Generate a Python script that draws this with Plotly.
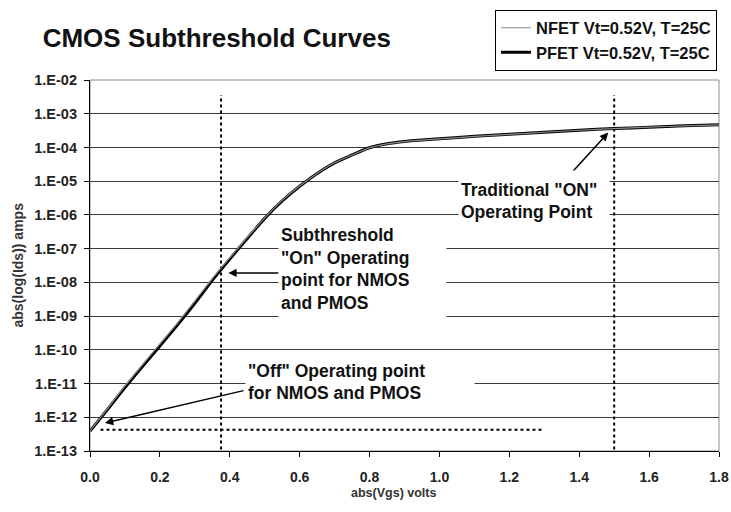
import plotly.graph_objects as go

# ---------------- data ----------------
vgs = [0.00, 0.05, 0.10, 0.15, 0.20, 0.25, 0.30, 0.35, 0.40, 0.45, 0.50, 0.55, 0.60, 0.65,
       0.70, 0.75, 0.80, 0.85, 0.90, 0.95, 1.00, 1.10, 1.20, 1.30, 1.40, 1.50, 1.60, 1.70, 1.80]
ids_pfet = [3.9e-13, 1.7e-12, 7.6e-12, 3.2e-11, 1.3e-10, 5.4e-10, 2.4e-9, 1.15e-8, 4.9e-8, 2.0e-7,
            7.9e-7, 2.6e-6, 7.1e-6, 1.7e-5, 3.5e-5, 6.0e-5, 9.8e-5, 1.28e-4, 1.50e-4, 1.66e-4,
            1.80e-4, 2.14e-4, 2.45e-4, 2.82e-4, 3.24e-4, 3.63e-4, 3.98e-4, 4.37e-4, 4.68e-4]
ids_nfet = [4.0e-13, 1.8e-12, 8.5e-12, 3.6e-11, 1.5e-10, 6.2e-10, 2.8e-9, 1.3e-8, 5.4e-8, 2.15e-7,
            8.2e-7, 2.7e-6, 7.2e-6, 1.7e-5, 3.5e-5, 6.0e-5, 9.7e-5, 1.27e-4, 1.49e-4, 1.65e-4,
            1.79e-4, 2.13e-4, 2.45e-4, 2.82e-4, 3.24e-4, 3.63e-4, 3.98e-4, 4.37e-4, 4.68e-4]
series_names = ["NFET Vt=0.52V, T=25C", "PFET Vt=0.52V, T=25C"]

# operating-point markers
on_sub_v = [0.375, 0.375]          # subthreshold "on" vertical line
on_trad_v = [1.5, 1.5]             # traditional "on" vertical line
vline_i = [1.1e-13, 3.6e-3]
off_v = [0.03, 1.3]                # "off" horizontal line
off_i = [4.3e-13, 4.3e-13]

# arrow (head V, head log10 I, tail V, tail log10 I)
arrow_sub = (0.396, -7.72, 0.544, -7.72)
arrow_trad = (1.483, -3.56, 1.373, -4.81)
arrow_off = (0.043, -12.17, 0.4435, -11.2)

ytick_vals = [1e-2, 1e-3, 1e-4, 1e-5, 1e-6, 1e-7, 1e-8, 1e-9, 1e-10, 1e-11, 1e-12, 1e-13]
ytick_text = ["1.E-02", "1.E-03", "1.E-04", "1.E-05", "1.E-06", "1.E-07", "1.E-08", "1.E-09",
              "1.E-10", "1.E-11", "1.E-12", "1.E-13"]
xtick_vals = [0.0, 0.2, 0.4, 0.6, 0.8, 1.0, 1.2, 1.4, 1.6, 1.8]

FONT = "Liberation Sans, Arial, sans-serif"

fig = go.Figure()

# dotted reference lines
for xs in (on_sub_v, on_trad_v):
    fig.add_trace(go.Scatter(x=xs, y=vline_i, mode="lines", showlegend=False,
                             line=dict(color="black", width=2, dash="dot"), hoverinfo="skip"))
fig.add_trace(go.Scatter(x=off_v, y=off_i, mode="lines", showlegend=False,
                         line=dict(color="black", width=2, dash="dot"), hoverinfo="skip"))

# curves: PFET thick black, NFET thin grey on top
fig.add_trace(go.Scatter(x=vgs, y=ids_pfet, mode="lines", name=series_names[1],
                         line=dict(color="black", width=3, shape="spline", smoothing=0.8),
                         legendrank=2))
fig.add_trace(go.Scatter(x=vgs, y=ids_nfet, mode="lines", name=series_names[0],
                         line=dict(color="#8a8a8a", width=1.2, shape="spline", smoothing=0.8),
                         legendrank=1))

ann_font = dict(family=FONT, size=17.5, color="#111", weight="bold")

annotations = []
# arrows
for (hx, hy, tx, ty) in (arrow_sub, arrow_trad, arrow_off):
    annotations.append(dict(x=hx, y=hy, ax=tx, ay=ty, xref="x", yref="y", axref="x", ayref="y",
                            text="", showarrow=True, arrowhead=2, arrowsize=1.1,
                            arrowwidth=1.5, arrowcolor="black"))
# text boxes (white background breaks the grid lines)
annotations.append(dict(text="Subthreshold<br>\"On\" Operating<br>point for NMOS<br>and PMOS",
                        xref="paper", yref="paper", x=0.299, y=0.49, xanchor="left", yanchor="middle",
                        align="left", valign="middle", width=163, height=94, bgcolor="white",
                        borderpad=2, showarrow=False, font=ann_font))
annotations.append(dict(text="Traditional \"ON\"<br>Operating Point",
                        xref="paper", yref="paper", x=0.585, y=0.673, xanchor="left", yanchor="middle",
                        align="left", valign="middle", width=146, height=56, bgcolor="white",
                        borderpad=2, showarrow=False, font=ann_font))
annotations.append(dict(text="\"Off\" Operating point<br>for NMOS and PMOS",
                        xref="paper", yref="paper", x=0.2464, y=0.1865, xanchor="left", yanchor="middle",
                        align="left", valign="middle", width=224, height=46, bgcolor="white",
                        borderpad=2, showarrow=False, font=ann_font))
# axis titles
annotations.append(dict(text="abs(Vgs) volts", xref="paper", yref="paper", x=0.483, y=-0.114,
                        xanchor="center", yanchor="middle", showarrow=False,
                        font=dict(family=FONT, size=12.5, color="#333", weight="bold")))
annotations.append(dict(text="abs(log(Ids)) amps", xref="paper", yref="paper", x=-0.116, y=0.5,
                        xanchor="center", yanchor="middle", textangle=-90, showarrow=False,
                        font=dict(family=FONT, size=14, color="#333", weight="bold")))

fig.update_layout(
    width=731, height=512,
    margin=dict(l=90, r=12, t=80, b=61, autoexpand=False),
    paper_bgcolor="white", plot_bgcolor="white",
    font=dict(family=FONT, color="#111", weight="bold"),
    title=dict(text="CMOS Subthreshold Curves", xref="container", yref="container",
               x=0.0584, y=0.9258, xanchor="left", yanchor="middle",
               font=dict(family=FONT, size=26, color="#111", weight="bold")),
    legend=dict(x=0.9968, y=1.19, xanchor="right", yanchor="top", xref="paper", yref="paper",
                bordercolor="black", borderwidth=1, bgcolor="white", itemwidth=30,
                font=dict(family=FONT, size=16.5, color="#111", weight="bold"),
                traceorder="normal"),
    annotations=annotations,
    shapes=[dict(type="rect", xref="paper", yref="paper", x0=0, x1=1, y0=0, y1=1,
                 line=dict(color="#8c8c8c", width=1), layer="below")],
    showlegend=True,
)

fig.update_xaxes(range=[0, 1.8], tickvals=xtick_vals, tickformat=".1f", showgrid=False,
                 zeroline=False, showline=True, linecolor="black", linewidth=1.2, automargin=False,
                 ticks="outside", ticklen=5, tickcolor="black", ticklabelstandoff=8,
                 tickfont=dict(family=FONT, size=14, color="#222", weight="bold"))
fig.update_yaxes(type="log", range=[-13, -2], tickvals=ytick_vals, ticktext=ytick_text,
                 showgrid=True, gridcolor="#3a3a3a", gridwidth=1, zeroline=False, automargin=False,
                 showline=True, linecolor="black", linewidth=1.2,
                 ticks="outside", ticklen=5, tickcolor="black", ticklabelstandoff=4,
                 tickfont=dict(family=FONT, size=14.5, color="#222", weight="bold"))

fig.write_html("out.html")
